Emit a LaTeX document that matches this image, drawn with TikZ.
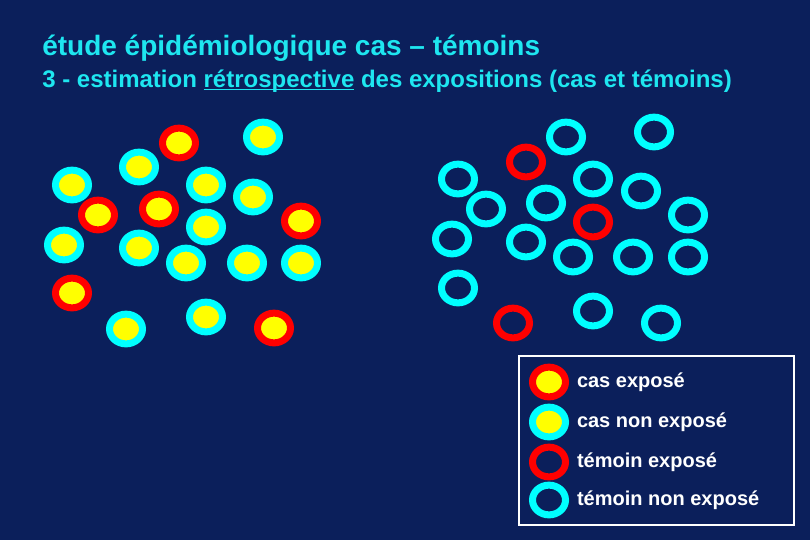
\documentclass[tikz,border=0pt]{standalone}
\usepackage{fontspec}
\setmainfont{Liberation Sans}
\usetikzlibrary{positioning,shapes.geometric}
\definecolor{slidebg}{RGB}{11,31,91}
\definecolor{ringcyan}{RGB}{0,255,255}
\definecolor{titlecyan}{RGB}{30,230,240}
\definecolor{ringred}{RGB}{255,0,0}
\definecolor{dotyellow}{RGB}{255,255,0}
% underline that sits close to the baseline
\newcommand\undln[1]{\setbox0\hbox{#1}\rlap{\rule[-2.6pt]{\wd0}{1.3pt}}#1}

\begin{document}
\begin{tikzpicture}[
  x=0.75pt,y=-0.75pt,
  ring/.style={ellipse,inner sep=0pt,minimum width=24.75pt,minimum height=22.3pt,
    line width=5.25pt},
  casexp/.style={ring,draw=ringred,fill=dotyellow},
  casnon/.style={ring,draw=ringcyan,fill=dotyellow},
  temexp/.style={ring,draw=ringred},
  temnon/.style={ring,draw=ringcyan},
  titletext/.style={text=titlecyan,inner sep=0pt,anchor=base west},
  legtext/.style={text=white,font=\bfseries\fontsize{15}{18}\selectfont,inner sep=0pt}
]
\fill[slidebg] (0,0) rectangle (810,540);
\useasboundingbox (0,0) rectangle (810,540);

% titles
\node[titletext,font=\bfseries\fontsize{21}{25}\selectfont] (t1) at (42,55)
  {étude épidémiologique cas – témoins};
\node[titletext,font=\bfseries\fontsize{18}{22}\selectfont] (t2) at (42,87)
  {3 - estimation \undln{rétrospective} des expositions (cas et témoins)};

% cas (left group)
\foreach \x/\y [count=\i] in {179/143,98/215,159/209,301/221,72/293,274/328}
  \node[casexp] (ce\i) at (\x,\y) {};
\foreach \x/\y [count=\i] in {263/137,139/167,72/185,206/185,253/197,206/227,64/245,
    139/248,186/263,247/263,301/263,126/329,206/317}
  \node[casnon] (cn\i) at (\x,\y) {};

% témoins (right group)
\foreach \x/\y [count=\i] in {526/162,593/222,513/323}
  \node[temexp] (te\i) at (\x,\y) {};
\foreach \x/\y [count=\i] in {566/137,654/132,458/179,593/179,641/191,486/209,546/203,
    688/215,452/239,526/242,573/257,633/257,688/257,458/288,593/311,661/323}
  \node[temnon] (tn\i) at (\x,\y) {};

% legend
\draw[white,line width=0.8pt] (519,356) rectangle (794,525);
\node[casexp] (l1) at (549,382) {};
\node[casnon] (l2) at (549,422) {};
\node[temexp] (l3) at (549,462) {};
\node[temnon] (l4) at (549,500) {};
\node[legtext,right=5.8pt of l1] (lt1) {cas exposé};
\node[legtext,right=5.8pt of l2] (lt2) {cas non exposé};
\node[legtext,right=5.8pt of l3] (lt3) {témoin exposé};
\node[legtext,right=5.8pt of l4] (lt4) {témoin non exposé};
\end{tikzpicture}
\end{document}
